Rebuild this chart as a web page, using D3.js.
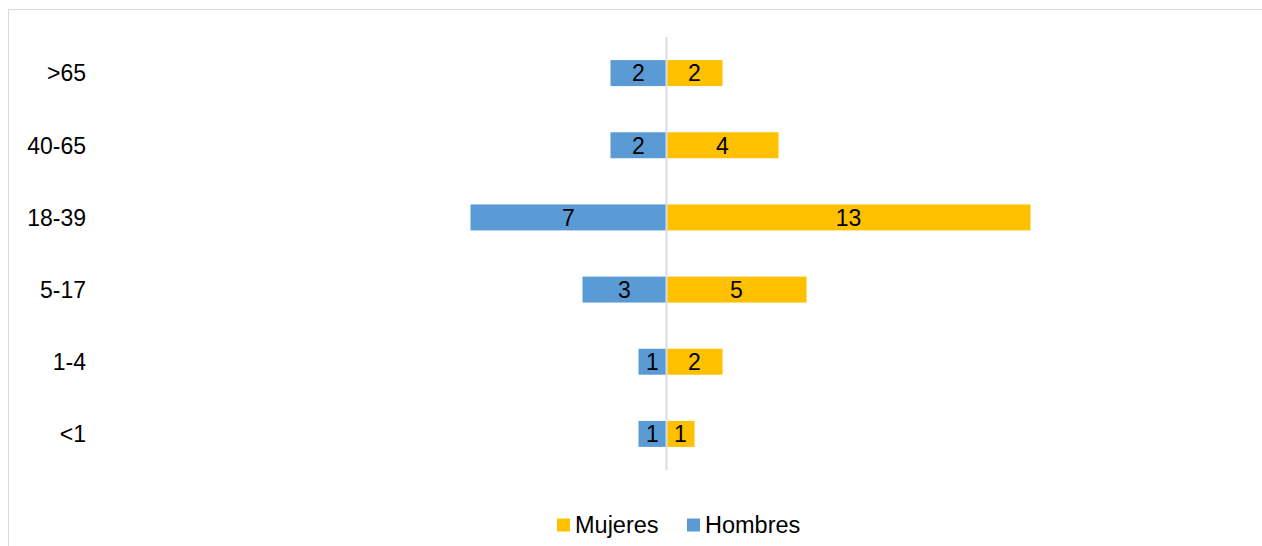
<!DOCTYPE html>
<html>
<head>
<style>
  body { margin: 0; background: #fff; font-family: "Liberation Sans", Arial, sans-serif; }
  svg { display: block; }
</style>
</head>
<body>
<svg id="chart" width="1262" height="546"></svg>
<script src="https://d3js.org/d3.v7.min.js"></script>
<script>
// data
const categories = [">65", "40-65", "18-39", "5-17", "1-4", "<1"];
const hombres = [2, 2, 7, 3, 1, 1];
const mujeres = [2, 4, 13, 5, 2, 1];
const seriesNames = ["Mujeres", "Hombres"];
const colors = { Mujeres: "#FFC000", Hombres: "#5B9BD5" };

const svg = d3.select("#chart");

// chart border (right/bottom sides fall off the page)
svg.append("rect")
  .attr("x", 8.5).attr("y", 9.5)
  .attr("width", 1300).attr("height", 600)
  .attr("fill", "#fff")
  .attr("stroke", "#d9dde3")
  .attr("stroke-width", 1);

const x = d3.scaleLinear().domain([-20, 20]).range([106.5, 1226.5]);
const y = d3.scaleBand().domain(categories).range([37, 470]).paddingInner(0.64).paddingOuter(0.32);

const rows = categories.map((c, i) => ({ cat: c, h: hombres[i], m: mujeres[i] }));

// Hombres bars (left)
svg.append("g").selectAll("rect")
  .data(rows).join("rect")
  .attr("x", d => x(-d.h))
  .attr("y", d => y(d.cat))
  .attr("width", d => x(0) - x(-d.h))
  .attr("height", y.bandwidth())
  .attr("fill", colors.Hombres);

// Mujeres bars (right)
svg.append("g").selectAll("rect")
  .data(rows).join("rect")
  .attr("x", x(0))
  .attr("y", d => y(d.cat))
  .attr("width", d => x(d.m) - x(0))
  .attr("height", y.bandwidth())
  .attr("fill", colors.Mujeres);

// center axis line
svg.append("line")
  .attr("x1", x(0)).attr("x2", x(0))
  .attr("y1", 37).attr("y2", 470)
  .attr("stroke", "#d9dde3")
  .attr("stroke-width", 2);

// data labels
const fontSize = 23;
svg.append("g").selectAll("text")
  .data(rows).join("text")
  .attr("x", d => (x(-d.h) + x(0)) / 2)
  .attr("y", d => y(d.cat) + y.bandwidth() / 2)
  .attr("dy", "0.36em")
  .attr("text-anchor", "middle")
  .attr("font-size", fontSize)
  .attr("fill", "#000")
  .text(d => d.h);

svg.append("g").selectAll("text")
  .data(rows).join("text")
  .attr("x", d => (x(d.m) + x(0)) / 2)
  .attr("y", d => y(d.cat) + y.bandwidth() / 2)
  .attr("dy", "0.36em")
  .attr("text-anchor", "middle")
  .attr("font-size", fontSize)
  .attr("fill", "#000")
  .text(d => d.m);

// category labels
svg.append("g").selectAll("text")
  .data(categories).join("text")
  .attr("x", 86)
  .attr("y", d => y(d) + y.bandwidth() / 2)
  .attr("dy", "0.36em")
  .attr("text-anchor", "end")
  .attr("font-size", fontSize)
  .attr("fill", "#000")
  .text(d => d);

// legend
const legendX = [557, 687];
const leg = svg.append("g").selectAll("g")
  .data(seriesNames).join("g")
  .attr("transform", (d, i) => `translate(${legendX[i]},525)`);
leg.append("rect")
  .attr("x", 0).attr("y", -6.5)
  .attr("width", 13).attr("height", 13)
  .attr("fill", d => colors[d]);
leg.append("text")
  .attr("x", 18).attr("dy", "0.36em")
  .attr("font-size", 23.5)
  .attr("fill", "#000")
  .text(d => d);
</script>
</body>
</html>
